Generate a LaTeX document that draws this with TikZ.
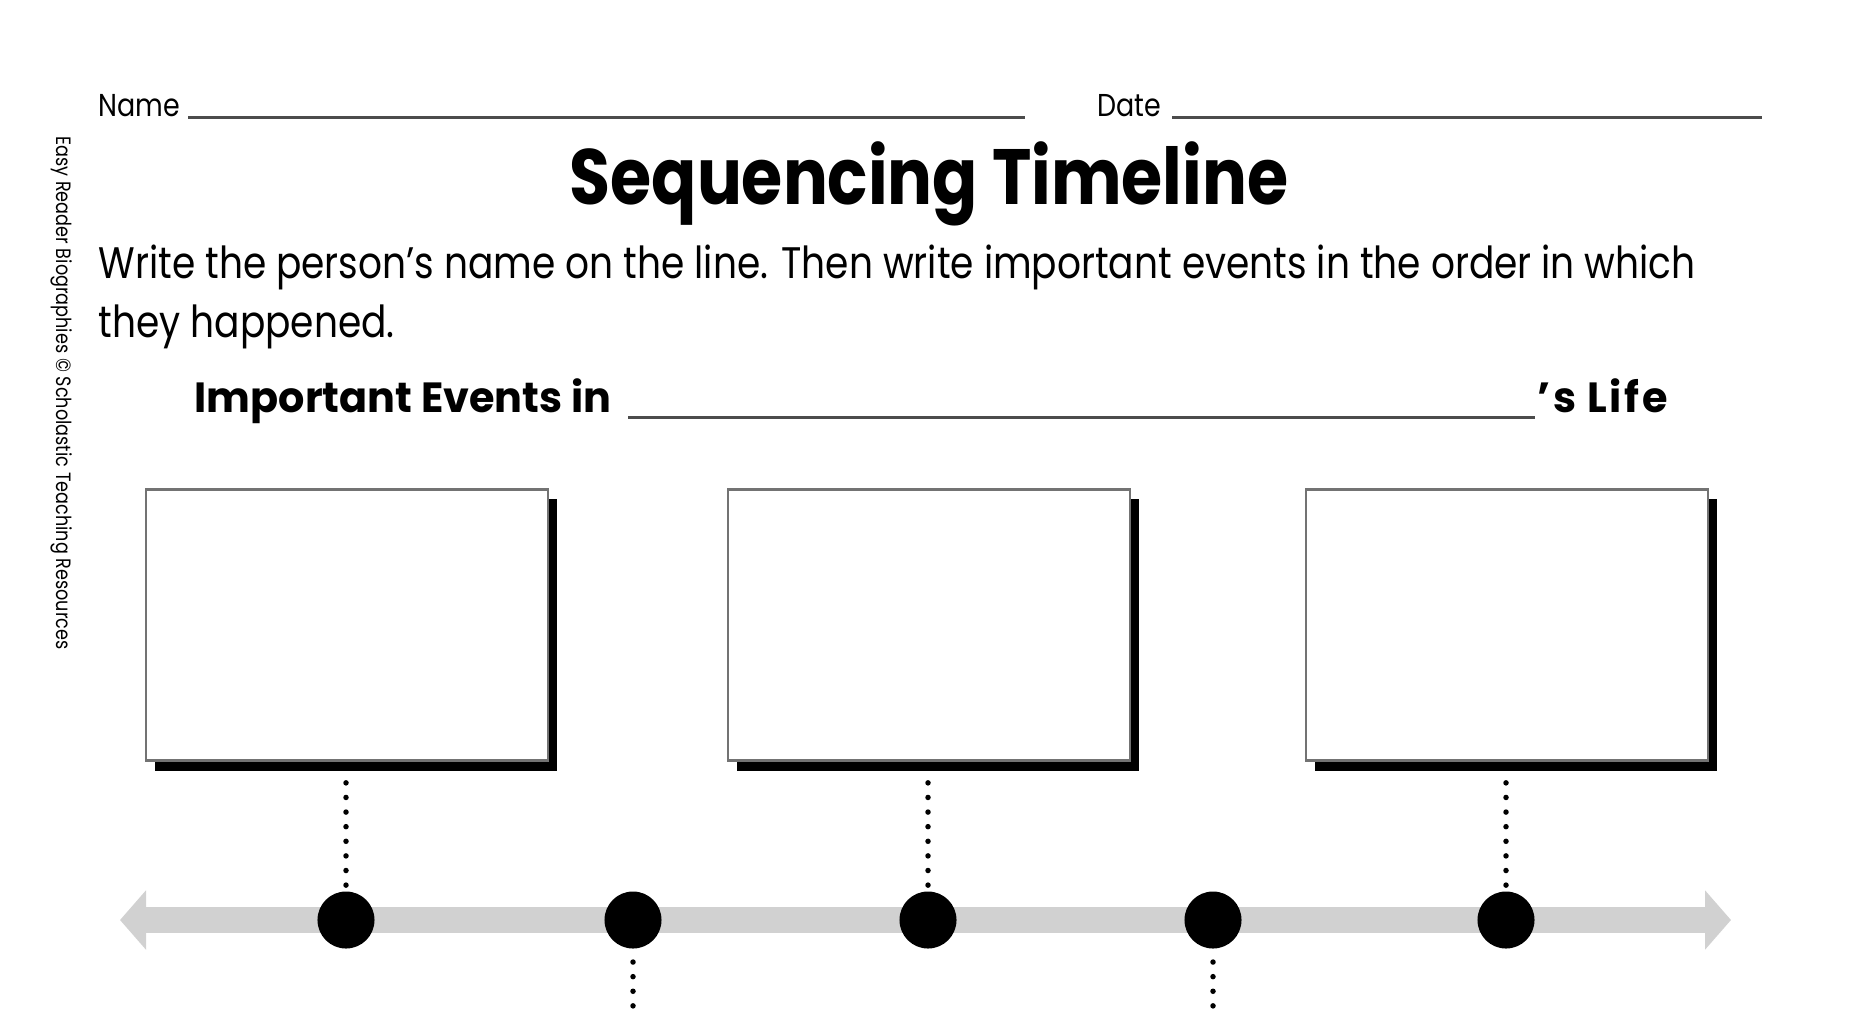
\documentclass[tikz,border=0pt]{standalone}
\usepackage{fontspec}
\setmainfont[FakeStretch=0.85]{Poppins}
\newfontfamily\spacedbold[FakeStretch=0.98]{Poppins Bold}
\newfontfamily\widebold[LetterSpace=6,FakeStretch=0.98]{Poppins Bold}
\usetikzlibrary{arrows.meta,positioning}

\begin{document}
\begin{tikzpicture}[x=0.01cm, y=-0.01cm,
	eventBox/.style={rectangle, draw=black!55, line width=0.025cm, fill=white, minimum width=4.02cm, minimum height=2.71cm, inner sep=0pt},
	shadowBox/.style={rectangle, fill=black, minimum width=4.02cm, minimum height=2.71cm, inner sep=0pt},
	timeDot/.style={circle, fill=black, minimum size=0.57cm, inner sep=0pt},
	dotLine/.style={line width=0.055cm, line cap=round, dash pattern=on 0pt off 0.146cm},
	writeLine/.style={line width=0.03cm, color=black!70}]
	\useasboundingbox (0,0) rectangle (1869,1008);

	% header
	\node[anchor=base west, inner sep=0pt, font=\fontsize{9}{11}\selectfont](nameLbl) at (98,116){Name};
	\node[anchor=base west, inner sep=0pt, font=\fontsize{9}{11}\selectfont](dateLbl) at (1097,116){Date};
	\draw[writeLine] (188,117) -- (1025,117);
	\draw[writeLine] (1172,117) -- (1762,117);

	\node[anchor=base, inner sep=0pt, font=\fontsize{22.3}{26}\bfseries](title) at (929,204){Sequencing Timeline};
	\node[anchor=base west, inner sep=0pt, font=\fontsize{12.55}{15}\selectfont](instrOne) at (98,278){Write the person’s name on the line. Then write important events in the order in which};
	\node[anchor=base west, inner sep=0pt, font=\fontsize{12.55}{15}\selectfont](instrTwo) at (98,337){they happened.};

	\node[anchor=base west, inner sep=0pt, font=\fontsize{12}{14}\spacedbold](eventsLbl) at (194,412){Important Events in};
	\node[anchor=base west, inner sep=0pt, font=\fontsize{12}{14}\widebold](lifeLbl) at (1537,412){’s Life};
	\draw[writeLine] (628,417) -- (1535,417);

	\node[rotate=-90, inner sep=0pt, font=\fontsize{5.9}{7}\selectfont](credit) at (62,393){Easy Reader Biographies © Scholastic Teaching Resources};

	% event boxes
	\node[shadowBox](shadowOne) at (356,635){};
	\node[shadowBox](shadowTwo) at (938,635){};
	\node[shadowBox](shadowThree) at (1516,635){};
	\node[eventBox](boxOne) at (347,625){};
	\node[eventBox](boxTwo) at (929,625){};
	\node[eventBox](boxThree) at (1507,625){};

	% timeline
	\coordinate (barStart) at (120,920);
	\coordinate (barEnd) at (1731,920);
	\coordinate (pageBottom) at (0,1008);
	\draw[line width=0.26cm, color=black!18, {Triangle[length=0.26cm,width=0.58cm]}-{Triangle[length=0.26cm,width=0.58cm]}] (barStart) -- (barEnd);

	\coordinate (dotOnePos) at (346,920);
	\coordinate (dotTwoPos) at (633,920);
	\coordinate (dotThreePos) at (928,920);
	\coordinate (dotFourPos) at (1213,920);
	\coordinate (dotFivePos) at (1506,920);

	% draw dotted connectors
	\draw[dotLine] ([yshift=-0.21cm]boxOne.south -| dotOnePos) -- (dotOnePos);
	\draw[dotLine] ([yshift=-0.21cm]boxTwo.south -| dotThreePos) -- (dotThreePos);
	\draw[dotLine] ([yshift=-0.21cm]boxThree.south -| dotFivePos) -- (dotFivePos);
	\draw[dotLine] ([yshift=-0.42cm]dotTwoPos) -- (dotTwoPos |- pageBottom);
	\draw[dotLine] ([yshift=-0.42cm]dotFourPos) -- (dotFourPos |- pageBottom);

	% draw dots
	\node[timeDot](dotOne) at (dotOnePos){};
	\node[timeDot](dotTwo) at (dotTwoPos){};
	\node[timeDot](dotThree) at (dotThreePos){};
	\node[timeDot](dotFour) at (dotFourPos){};
	\node[timeDot](dotFive) at (dotFivePos){};
\end{tikzpicture}
\end{document}
